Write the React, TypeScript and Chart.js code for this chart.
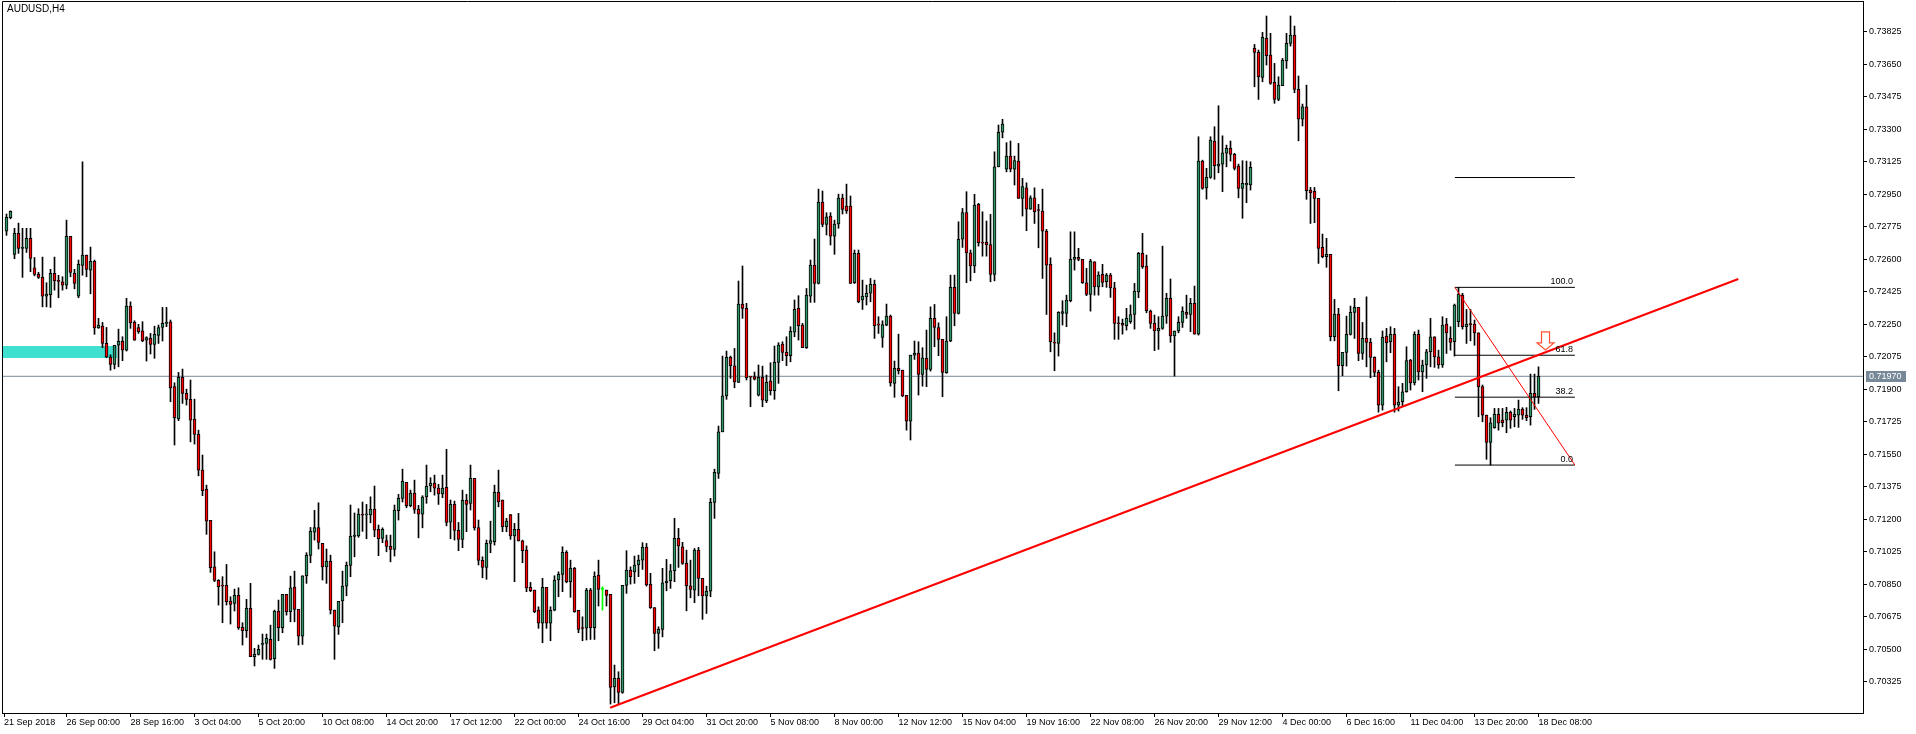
import React, { useEffect, useRef } from 'react';
import { Chart, registerables } from 'chart.js';

Chart.register(...registerables);

// Prices in units of 0.00001 (AUDUSD, H4)
const opens = [
72752,72824,72627,72740,72659,72659,72713,72554,72519,72503,72402,72409,72524,72483,72479,72461,72724,72524,72402,72567,
72623,72542,72589,72231,72240,72147,72074,72034,72138,72158,72111,72348,72260,72233,72215,72164,72174,72142,72190,72233,
72255,72264,71914,71740,71964,71878,71846,71740,71657,71465,71361,71194,70944,70871,70842,70844,70760,70747,70790,70618,
70600,70720,70460,70473,70526,70532,70553,70449,70706,70616,70796,70702,70835,70715,70571,70896,71006,71130,71156,71070,
70944,70973,70711,70621,70761,70840,70952,71108,71111,71224,71224,71223,71255,71146,71097,71086,71054,71038,71246,71313,
71399,71273,71341,71253,71228,71320,71380,71395,71368,71337,71372,71185,71280,71140,71092,71302,71286,71420,71156,70979,
70941,71070,71079,71345,71304,71160,71226,71111,71146,71084,71034,70833,70819,70711,70640,70833,70640,70710,70873,70903,
71022,70864,70936,70710,70614,70614,70819,70616,70900,70823,70819,70796,70298,70343,70268,70844,70927,70917,70954,70980,
71050,70850,70724,70586,70607,70858,70869,70923,71097,71052,70963,70842,70819,71034,70882,70788,70813,71291,71447,71671,
71865,72072,72027,71937,72359,72336,71968,71968,71869,71964,71838,71944,71892,72045,72144,72099,72081,72207,72336,72246,
72124,72402,72569,72470,72908,72788,72833,72725,72790,72930,72887,72887,72474,72632,72381,72398,72417,72465,72248,72180,
72246,72294,71932,72013,72003,71867,71729,72084,72095,71980,72067,72007,72282,72233,72169,71989,72160,72449,72309,72709,
72851,72635,72565,72896,72689,72691,72680,72519,73098,73284,73086,73156,73086,73129,72928,72985,72870,72931,72865,72860,
72752,72573,72151,72147,72309,72309,72377,72600,72610,72600,72474,72411,72587,72452,72519,72479,72515,72447,72255,72255,
72242,72264,72303,72425,72632,72564,72321,72255,72215,72228,72294,72390,72187,72214,72260,72314,72303,72363,72197,73129,
72985,73041,73237,73102,73113,73171,73197,73165,73102,72982,73000,73000,73736,73714,73580,73790,73700,73553,73461,73535,
73669,73763,73808,73515,73354,73421,72973,72968,72928,72664,72614,72627,72183,72305,72027,72099,72196,72314,72341,72093,
72174,72153,72072,71991,71815,72187,72156,72196,71815,71833,71887,72057,71935,72196,71994,72031,72102,72183,72075,72031,
72251,72174,72156,72264,72407,72237,72250,72251,72204,71914,71761,71614,71693,71765,71734,71734,71776,71752,71761,71794,
71761,71752,71878,71860
];
const highs = [
72844,72861,72767,72795,72767,72767,72767,72610,72530,72612,72474,72546,72612,72514,72506,72811,72724,72546,72596,73125,
72623,72666,72596,72282,72260,72233,72086,72137,72224,72183,72390,72371,72269,72250,72264,72183,72201,72240,72246,72341,
72341,72273,71935,71991,72009,71901,71950,71847,71680,71546,71384,71194,71025,70875,70891,70957,70783,70824,70831,70643,
70769,70855,70505,70523,70582,70582,70630,70711,70765,70796,70796,70894,70921,70715,70896,71020,71156,71248,71289,71070,
71040,71007,70711,70758,70921,70970,71277,71234,71257,71293,71280,71321,71379,71169,71154,71115,71115,71277,71334,71470,
71399,71357,71411,71275,71327,71492,71424,71438,71388,71438,71577,71304,71298,71183,71357,71334,71492,71420,71196,70998,
71088,71190,71384,71465,71304,71205,71226,71178,71232,71088,71057,70860,70819,70729,70882,70833,70729,70896,70917,71052,
71031,70980,70941,70710,70675,70828,70828,70917,70980,70837,70819,70796,70415,70379,70844,71031,70944,71002,71007,71074,
71070,70909,70724,70621,70936,70984,70957,71205,71151,71076,71034,70980,71043,71049,70882,70840,71313,71470,71702,72079,
72106,72079,72120,72483,72564,72363,71968,71993,72031,72025,71977,72043,72133,72151,72156,72183,72237,72381,72404,72255,
72443,72596,72709,72978,72968,72851,72851,72811,72951,72951,73005,72941,72650,72650,72488,72461,72497,72488,72291,72269,
72359,72300,72052,72197,72003,71867,72084,72160,72156,72124,72219,72344,72357,72258,72169,72291,72515,72515,72802,72874,
72964,72650,72950,72901,72856,72806,72842,73179,73323,73354,73228,73237,73156,73224,73036,73012,72942,72985,72896,72978,
72761,72608,72204,72318,72377,72407,72748,72748,72659,72600,72551,72600,72587,72533,72573,72524,72524,72476,72291,72278,
72336,72354,72470,72637,72740,72623,72327,72300,72291,72671,72417,72494,72214,72291,72344,72407,72390,72456,73260,73134,
73090,73260,73314,73427,73265,73215,73237,73171,73113,73131,73129,73125,73757,73727,73822,73910,73817,73655,73583,73682,
73817,73910,73856,73587,73436,73538,72987,72987,72928,72736,72713,72627,72384,72336,72099,72294,72348,72390,72341,72260,
72398,72174,72075,72003,72214,72228,72237,72228,71914,71932,72129,72061,72210,72219,72057,72115,72282,72183,72111,72291,
72282,72237,72359,72449,72417,72330,72330,72273,72204,71923,71761,71747,71797,71797,71797,71803,71783,71797,71842,71801,
71801,71982,71982,72021
];
const lows = [
72729,72818,72603,72632,72503,72637,72533,72511,72497,72344,72344,72341,72434,72393,72434,72441,72506,72441,72393,72514,
72506,72414,72196,72228,72124,72070,72003,72010,72021,72054,72106,72228,72164,72201,72156,72052,72090,72067,72147,72160,
72237,71833,71600,71731,71824,71815,71617,71605,71434,71327,71119,70914,70864,70738,70643,70738,70636,70706,70607,70523,
70564,70460,70410,70469,70446,70446,70442,70397,70546,70589,70684,70648,70648,70523,70526,70855,70966,71088,71040,70873,
70855,70690,70446,70580,70643,70788,70891,70998,71103,71135,71095,71181,71106,71004,71074,71025,70971,71002,71196,71293,
71262,71267,71232,71100,71154,71286,71348,71330,71280,71316,71165,71095,71088,71031,71047,71133,71250,71142,70954,70885,
70877,71020,71061,71267,71133,71133,71092,70864,71083,70966,70810,70810,70697,70613,70535,70613,70546,70707,70783,70810,
70858,70780,70699,70589,70546,70550,70553,70553,70733,70711,70733,70205,70212,70205,70263,70801,70851,70855,70891,70930,
70840,70720,70492,70505,70567,70815,70828,70864,70941,70957,70707,70777,70751,70788,70661,70693,70783,71205,71420,71671,
71846,71959,71908,71937,72282,71950,71806,71950,71864,71806,71828,71869,71846,71932,72054,72027,72048,72183,72165,72124,
72120,72368,72368,72467,72775,72731,72677,72627,72767,72844,72847,72470,72470,72366,72330,72354,72371,72174,72201,72126,
72242,71917,71857,71982,71860,71680,71627,72061,71869,71917,71914,71998,72129,72081,71860,71986,72156,72242,72305,72664,
72474,72484,72528,72671,72617,72617,72479,72484,73098,73254,73071,73071,73000,72928,72833,72754,72869,72793,72662,72497,
72303,72102,72000,72079,72246,72237,72371,72542,72592,72470,72404,72321,72407,72407,72452,72449,72395,72169,72169,72197,
72219,72255,72224,72393,72551,72312,72228,72108,72115,72223,72255,72153,71971,72204,72233,72282,72210,72197,72192,72977,
72924,73036,73031,73066,72964,73098,73129,73081,72931,72821,72905,72973,73529,73461,73556,73646,73542,73440,73454,73535,
73628,73748,73497,73238,73318,72923,72793,72797,72578,72608,72557,72161,72161,71892,71973,72025,72192,72174,72054,72061,
72021,71962,71968,71777,71788,72048,72097,71777,71783,71810,71884,71896,71923,71950,71887,71959,72021,72018,72013,72018,
72093,72111,72079,72237,72224,72147,72161,72137,71752,71725,71523,71492,71690,71680,71698,71666,71690,71698,71695,71738,
71731,71707,71792,71824
];
const closes = [
72826,72858,72740,72659,72664,72713,72605,72519,72503,72402,72413,72524,72483,72481,72461,72724,72530,72470,72573,72623,
72546,72589,72231,72246,72147,72074,72034,72137,72158,72111,72348,72258,72164,72210,72160,72178,72142,72196,72233,72255,
72258,71908,71747,71964,71878,71846,71734,71657,71465,71354,71190,70939,70871,70837,70840,70756,70742,70790,70616,70600,
70720,70460,70473,70500,70532,70559,70446,70706,70616,70796,70702,70831,70715,70571,70896,71006,71137,71156,71076,70944,
70975,70711,70625,70758,70840,70952,71108,71115,71228,71222,71226,71255,71142,71095,71146,71054,71038,71250,71313,71404,
71273,71341,71253,71228,71320,71377,71395,71368,71337,71368,71183,71280,71140,71092,71302,71280,71420,71154,70979,70941,
71070,71086,71345,71294,71160,71190,71111,71146,71084,71031,70831,70815,70702,70640,70833,70640,70710,70873,70903,71022,
70864,70936,70702,70607,70612,70819,70616,70893,70823,70823,70790,70295,70343,70268,70844,70927,70891,70954,70980,71050,
70846,70724,70586,70607,70858,70867,70923,71097,71057,70963,70842,70823,71034,70882,70788,70813,71291,71453,71671,71865,
72072,72027,71940,72359,72336,71962,71966,71954,71964,71842,71937,71892,72045,72138,72099,72081,72212,72330,72242,72124,
72407,72569,72470,72908,72788,72829,72725,72790,72930,72869,72861,72470,72632,72371,72402,72417,72465,72242,72246,72248,
72294,71935,72013,72000,71865,71729,72084,72095,71980,72070,72007,72282,72233,72169,71991,72160,72449,72309,72709,72851,
72635,72565,72892,72689,72687,72677,72519,73098,73284,73328,73156,73086,73131,72928,72991,72870,72931,72856,72863,72752,
72569,72156,72149,72314,72318,72381,72600,72610,72600,72474,72411,72590,72452,72515,72476,72515,72447,72255,72253,72246,
72282,72303,72429,72632,72560,72323,72255,72215,72228,72294,72390,72188,72214,72260,72321,72303,72363,72197,73129,72982,
73041,73242,73104,73113,73174,73197,73165,73090,72982,73009,73009,73095,73714,73583,73795,73696,73547,73461,73538,73673,
73763,73808,73515,73354,73421,72969,72958,72928,72659,72614,72627,72183,72305,72027,72099,72196,72314,72341,72093,72174,
72153,72072,71991,71815,72180,72151,72196,71815,71831,71887,72054,71935,72196,71994,72031,72102,72183,72075,72031,72246,
72204,72153,72354,72413,72237,72251,72248,72204,71914,71761,71614,71720,71765,71717,71720,71776,71734,71765,71794,71761,
71747,71878,71857,71970
];

const xTickIndex = [-0.6, 15, 31, 47, 63, 79, 95, 111, 127, 143, 159, 175, 191, 207, 223, 239, 255, 271, 287, 303, 319, 335, 351, 367, 383];
const xTickLabels = ['21 Sep 2018', '26 Sep 00:00', '28 Sep 16:00', '3 Oct 04:00', '5 Oct 20:00', '10 Oct 08:00', '14 Oct 20:00',
  '17 Oct 12:00', '22 Oct 00:00', '24 Oct 16:00', '29 Oct 04:00', '31 Oct 20:00', '5 Nov 08:00', '8 Nov 00:00', '12 Nov 12:00',
  '15 Nov 04:00', '19 Nov 16:00', '22 Nov 08:00', '26 Nov 20:00', '29 Nov 12:00', '4 Dec 00:00', '6 Dec 16:00', '11 Dec 04:00',
  '13 Dec 20:00', '18 Dec 08:00'];
const yTickValues = [0.70325, 0.705, 0.70675, 0.7085, 0.71025, 0.712, 0.71375, 0.7155, 0.71725, 0.719, 0.72075, 0.7225,
  0.72425, 0.726, 0.72775, 0.7295, 0.73125, 0.733, 0.73475, 0.7365, 0.73825];

const symbolTitle = 'AUDUSD,H4';
const currentPrice = 0.7197;
const trendStart = { x: 150.9, y: 0.70185 };
const trendEnd = { x: 432.95, y: 0.72494 };
const fibHigh = 0.72449;
const fibLow = 0.71492;
const fibStartIndex = 362.1;
const fibEndIndex = 392.1;
const fibLevels = [1.618, 1, 0.618, 0.382, 0];
const fibLabels = ['', '100.0', '61.8', '38.2', '0.0'];
const zoneTop = 0.72133;
const zoneBottom = 0.72068;
const zoneEndIndex = 27.6;
const arrowIndex = 384.75;
const arrowPrice = 0.72112;

const X_MIN = -1.125;
const X_MAX = 464.125;
const Y_MAX = 0.73991;
const Y_MIN = 0.701569;

const BULL = '#2f9565';
const BEAR = '#ff0000';
const DOJI = '#00ff00';
const FONT = '"Liberation Sans", Arial, sans-serif';

const fibPrice = (lv: number) => fibLow + lv * (fibHigh - fibLow);

const extrasPlugin = {
  id: 'extras',
  beforeDraw(chart: any) {
    const { ctx, width, height } = chart;
    ctx.save();
    ctx.fillStyle = '#ffffff';
    ctx.fillRect(0, 0, width, height);
    ctx.restore();
  },
  afterDraw(chart: any) {
    const { ctx, chartArea: a, scales } = chart;
    const xs = scales.x;
    const ys = scales.y;
    ctx.save();
    ctx.strokeStyle = '#000';
    ctx.lineWidth = 1;
    ctx.beginPath();
    ctx.moveTo(a.left + 0.5, a.bottom);
    ctx.lineTo(a.left + 0.5, a.top + 0.5);
    ctx.lineTo(a.right, a.top + 0.5);
    ctx.stroke();

    ctx.fillStyle = '#000';
    ctx.font = '10px ' + FONT;
    ctx.textAlign = 'left';
    ctx.textBaseline = 'top';
    ctx.fillText(symbolTitle, 7, 4);

    ctx.font = '9px ' + FONT;
    ctx.textAlign = 'right';
    ctx.textBaseline = 'alphabetic';
    const fx = xs.getPixelForValue(fibEndIndex) - 2;
    fibLevels.forEach((lv, k) => {
      if (!fibLabels[k]) return;
      const py = ys.getPixelForValue(fibPrice(lv));
      ctx.fillText(fibLabels[k], fx, py - 3);
    });

    // sell arrow
    const cx = xs.getPixelForValue(arrowIndex);
    const ty = ys.getPixelForValue(arrowPrice);
    ctx.beginPath();
    ctx.moveTo(cx - 4, ty - 18);
    ctx.lineTo(cx + 4, ty - 18);
    ctx.lineTo(cx + 4, ty - 7);
    ctx.lineTo(cx + 8.5, ty - 7);
    ctx.lineTo(cx, ty);
    ctx.lineTo(cx - 8.5, ty - 7);
    ctx.lineTo(cx - 4, ty - 7);
    ctx.closePath();
    ctx.fillStyle = '#ffffff';
    ctx.fill();
    ctx.strokeStyle = '#ff5030';
    ctx.lineWidth = 1.2;
    ctx.stroke();

    // current price tag
    const pp = ys.getPixelForValue(currentPrice);
    ctx.fillStyle = '#778899';
    ctx.fillRect(a.right + 3, Math.round(pp) - 5, 40, 11);
    ctx.fillStyle = '#ffffff';
    ctx.font = '9px ' + FONT;
    ctx.textAlign = 'left';
    ctx.textBaseline = 'middle';
    ctx.fillText(currentPrice.toFixed(5), a.right + 6, pp + 0.5);
    ctx.restore();
  },
};

export default function App() {
  const ref = useRef<HTMLCanvasElement | null>(null);

  useEffect(() => {
    if (!ref.current) return;
    const idx = closes.map((_, i) => i);
    const colorOf = (i: number) => (closes[i] > opens[i] ? BULL : closes[i] < opens[i] ? BEAR : DOJI);
    const wickData = idx.map((i) => ({
      x: i,
      y: [Math.min(lows[i], opens[i], closes[i]) / 1e5, Math.max(highs[i], opens[i], closes[i]) / 1e5],
    }));
    const bodyData = idx.map((i) => ({
      x: i,
      y: [Math.min(opens[i], closes[i]) / 1e5, Math.max(opens[i], closes[i]) / 1e5],
    }));
    const lineBase = { type: 'line', pointRadius: 0, tension: 0, fill: false };

    const fibSets = fibLevels.map((lv) => ({
      ...lineBase,
      data: [{ x: fibStartIndex, y: fibPrice(lv) }, { x: fibEndIndex, y: fibPrice(lv) }],
      borderColor: '#000000',
      borderWidth: 1,
      order: 3,
    }));

    const chart = new Chart(ref.current, {
      type: 'bar',
      data: {
        datasets: [
          {
            ...lineBase,
            data: [{ x: X_MIN, y: zoneTop }, { x: zoneEndIndex, y: zoneTop }],
            borderColor: 'rgba(0,0,0,0)',
            borderWidth: 0,
            backgroundColor: '#40e0d0',
            fill: '+1',
            order: 20,
          },
          {
            ...lineBase,
            data: [{ x: X_MIN, y: zoneBottom }, { x: zoneEndIndex, y: zoneBottom }],
            borderColor: 'rgba(0,0,0,0)',
            borderWidth: 0,
            order: 20,
          },
          {
            ...lineBase,
            data: [{ x: X_MIN, y: currentPrice }, { x: X_MAX, y: currentPrice }],
            borderColor: '#778899',
            borderWidth: 1,
            order: 15,
          },
          {
            type: 'bar',
            data: wickData,
            backgroundColor: idx.map((i) => (colorOf(i) === DOJI ? DOJI : '#000000')),
            borderWidth: 0,
            barThickness: 1,
            grouped: false,
            order: 10,
          },
          {
            type: 'bar',
            data: bodyData,
            backgroundColor: idx.map((i) => colorOf(i)),
            borderColor: idx.map((i) => (colorOf(i) === DOJI ? DOJI : '#000000')),
            borderWidth: 1,
            borderSkipped: false,
            barThickness: 3,
            minBarLength: 1,
            grouped: false,
            order: 9,
          },
          ...fibSets,
          {
            ...lineBase,
            data: [{ x: fibStartIndex, y: fibHigh }, { x: fibEndIndex, y: fibLow }],
            borderColor: '#ff0000',
            borderWidth: 1,
            order: 2,
          },
          {
            ...lineBase,
            data: [trendStart, trendEnd],
            borderColor: '#ff0000',
            borderWidth: 2,
            order: 1,
          },
        ] as any,
      },
      options: {
        responsive: false,
        animation: false,
        devicePixelRatio: 1,
        events: [],
        layout: { padding: { left: 2, top: 1, right: 0, bottom: 0 }, autoPadding: false },
        plugins: { legend: { display: false }, tooltip: { enabled: false }, title: { display: false } },
        scales: {
          x: {
            type: 'linear',
            min: X_MIN,
            max: X_MAX,
            offset: false,
            position: 'bottom',
            grid: { display: true, drawOnChartArea: false, drawTicks: true, tickLength: 4, color: '#000', offset: false },
            border: { display: true, color: '#000', width: 1 },
            ticks: {
              autoSkip: false,
              maxRotation: 0,
              minRotation: 0,
              align: 'start',
              padding: 0,
              color: '#000',
              font: { family: FONT, size: 9 },
              callback: (_v: any, i: number) => xTickLabels[i],
            },
            afterBuildTicks: (s: any) => {
              s.ticks = xTickIndex.map((v) => ({ value: v }));
            },
            afterFit: (s: any) => {
              s.height = 21;
              s.paddingLeft = 0;
              s.paddingRight = 0;
              s.paddingTop = 0;
              s.paddingBottom = 0;
            },
          },
          y: {
            type: 'linear',
            position: 'right',
            min: Y_MIN,
            max: Y_MAX,
            grid: { display: true, drawOnChartArea: false, drawTicks: true, tickLength: 4, color: '#000' },
            border: { display: true, color: '#000', width: 1 },
            ticks: {
              padding: 2,
              color: '#000',
              font: { family: FONT, size: 9 },
              callback: (v: any) => Number(v).toFixed(5),
            },
            afterBuildTicks: (s: any) => {
              s.ticks = yTickValues.map((v) => ({ value: v }));
            },
            afterFit: (s: any) => {
              s.width = 53;
              s.paddingTop = 0;
              s.paddingBottom = 0;
              s.paddingLeft = 0;
              s.paddingRight = 0;
            },
          },
        },
      } as any,
      plugins: [extrasPlugin],
    });
    return () => chart.destroy();
  }, []);

  return (
    <div style={{ position: 'absolute', left: 0, top: 0, width: 1916, height: 734, background: '#fff' }}>
      <canvas ref={ref} width={1916} height={734} style={{ display: 'block', width: 1916, height: 734 }} />
    </div>
  );
}
